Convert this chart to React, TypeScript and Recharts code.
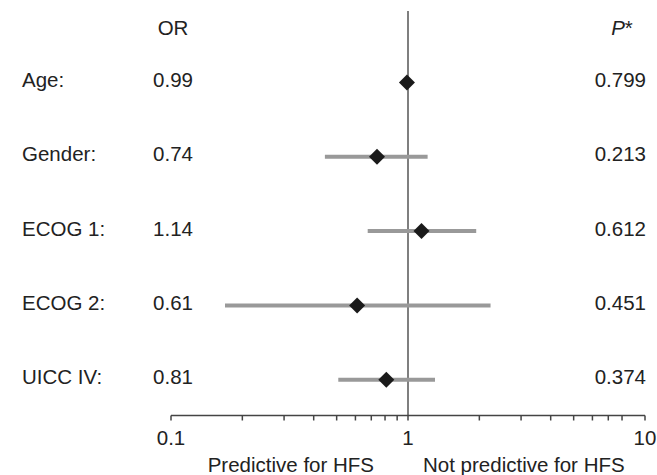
import { ScatterChart, Scatter, XAxis, YAxis, ReferenceLine, ErrorBar } from "recharts";

const rowLabels = ["Age:", "Gender:", "ECOG 1:", "ECOG 2:", "UICC IV:"];
const oddsRatios = [0.99, 0.74, 1.14, 0.61, 0.81];
const ciLower = [0.965, 0.446, 0.676, 0.169, 0.508];
const ciUpper = [1.015, 1.21, 1.94, 2.23, 1.3];
const pValues = ["0.799", "0.213", "0.612", "0.451", "0.374"];
const xTicks = [0.1, 0.2, 0.3, 0.4, 0.5, 0.6, 0.7, 0.8, 0.9, 1, 2, 3, 4, 5, 6, 7, 8, 9, 10];
const xTickLabels = ["0.1", "1", "10"];

const FONT = "'Liberation Sans', Arial, sans-serif";
const TEXT = "#222";
const FS = 20.5;

const data = oddsRatios.map((or, i) => ({
  or,
  row: i,
  err: [or - ciLower[i], ciUpper[i] - or],
}));

function formatX(v: number): string {
  const s = String(v);
  return xTickLabels.includes(s) ? s : "";
}

// left axis tick draws the whole table row: label, OR and P value
function RowTick({ y, payload }: any) {
  const i = payload.value as number;
  const common = { y, dy: 4.5, fontFamily: FONT, fontSize: FS, fill: TEXT };
  return (
    <g>
      <text x={22} textAnchor="start" {...common}>{rowLabels[i]}</text>
      <text x={173} textAnchor="middle" {...common}>{oddsRatios[i].toFixed(2)}</text>
      <text x={646} textAnchor="end" {...common}>{pValues[i]}</text>
    </g>
  );
}

function Diamond({ cx, cy }: any) {
  const r = 8;
  return (
    <polygon
      points={`${cx},${cy - r} ${cx + r},${cy} ${cx},${cy + r} ${cx - r},${cy}`}
      fill="#1a1a1a"
    />
  );
}

export default function App() {
  return (
    <div style={{ position: "absolute", left: 0, top: 0, width: 657, height: 475, background: "#fff" }}>
      <ScatterChart width={657} height={475} margin={{ top: 11, right: 12, left: 0, bottom: 0 }}>
        <XAxis
          type="number"
          dataKey="or"
          scale="log"
          domain={[0.1, 10]}
          ticks={xTicks}
          tickFormatter={formatX}
          allowDataOverflow
          height={59.5}
          tickSize={5}
          tickMargin={9.5}
          stroke="#444"
          strokeWidth={1.5}
          tick={{ fontFamily: FONT, fontSize: FS, fill: TEXT }}
        />
        <YAxis
          type="number"
          dataKey="row"
          domain={[-0.96, 4.48]}
          ticks={[0, 1, 2, 3, 4]}
          reversed
          width={171}
          axisLine={false}
          tickLine={false}
          tick={RowTick}
        />
        <ReferenceLine x={1} stroke="#555" strokeWidth={1.5} />
        <Scatter data={data} shape={Diamond} isAnimationActive={false}>
          <ErrorBar dataKey="err" direction="x" width={0} stroke="#999" strokeWidth={4} isAnimationActive={false} />
        </Scatter>
        <text x={173} y={35} textAnchor="middle" fontFamily={FONT} fontSize={FS} fill={TEXT}>OR</text>
        <text x={622} y={35} textAnchor="middle" fontFamily={FONT} fontSize={FS} fill={TEXT}>
          <tspan fontStyle="italic">P</tspan>*
        </text>
        <text x={374} y={472} textAnchor="end" fontFamily={FONT} fontSize={FS} fill={TEXT}>Predictive for HFS</text>
        <text x={423} y={472} textAnchor="start" fontFamily={FONT} fontSize={FS} fill={TEXT}>Not predictive for HFS</text>
      </ScatterChart>
    </div>
  );
}
